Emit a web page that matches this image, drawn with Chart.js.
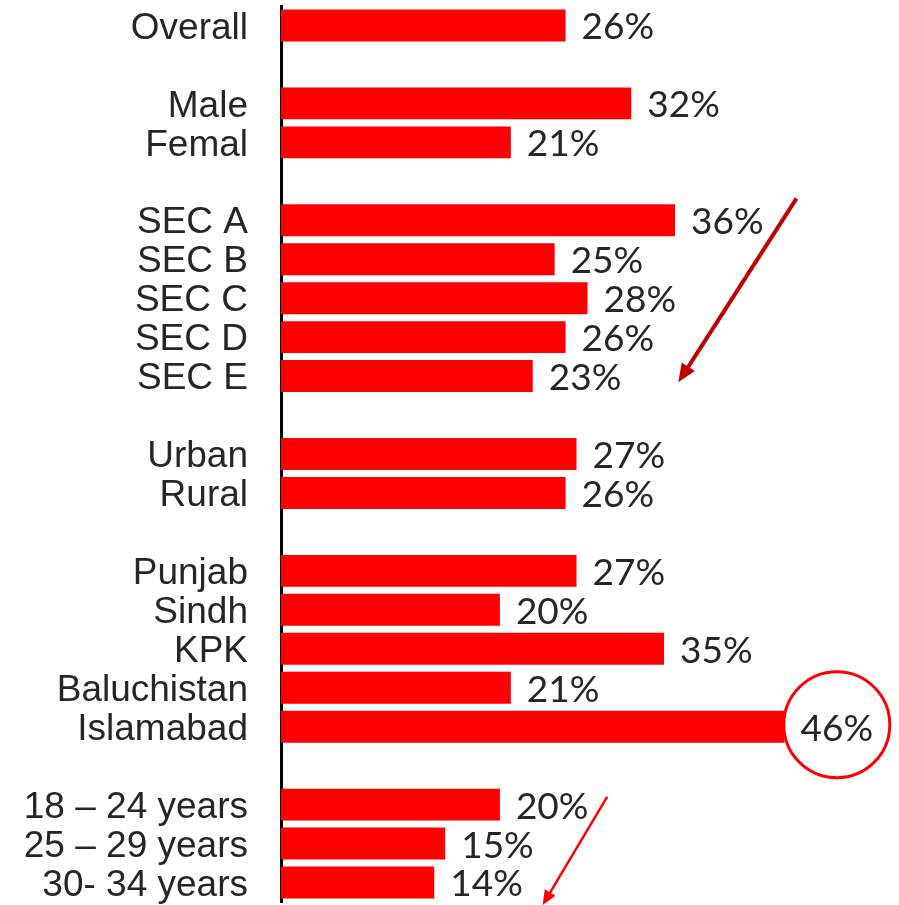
<!DOCTYPE html>
<html>
<head>
<meta charset="utf-8">
<script src="https://cdn.jsdelivr.net/npm/chart.js@4/dist/chart.umd.min.js"></script>
<style>
  html, body { margin: 0; padding: 0; background: #fff; }
  #wrap { width: 899px; height: 905px; position: relative; }
</style>
</head>
<body>
<div id="wrap"><canvas id="bars"></canvas></div>
<script>
/* =================================================================
    Data (empty label + null value = spacer row between groups)
================================================================= */

var categories = [
    "Overall", "",
    "Male", "Femal", "",
    "SEC A", "SEC B", "SEC C", "SEC D", "SEC E", "",
    "Urban", "Rural", "",
    "Punjab", "Sindh", "KPK", "Baluchistan", "Islamabad", "",
    "18 \u2013 24 years", "25 \u2013 29 years", "30- 34 years"
];

var shares = [
    26, null,
    32, 21, null,
    36, 25, 28, 26, 23, null,
    27, 26, null,
    27, 20, 35, 21, 46, null,
    20, 15, 14
];

var highlighted = "Islamabad";

/* =================================================================
    Value labels, circle and arrows
================================================================= */

var textColor = "#262626";

// arrows in data units: x = percent, y = row index
var arrows = [
    { from: [47.1, 4.44], to: [36.3, 9.16], color: "#C00000", width: 4, head: 20 },
    { from: [29.8, 19.8], to: [23.9, 22.58], color: "#FF0000", width: 2.5, head: 16 }
];

var labelPlugin = {
    id: "valueLabels",
    afterDatasetsDraw: function (chart) {
        var ctx = chart.ctx;
        var meta = chart.getDatasetMeta(0);
        ctx.save();
        ctx.font = "37px Lato";
        ctx.textBaseline = "middle";
        ctx.textAlign = "left";
        meta.data.forEach(function (bar, i) {
            var v = shares[i];
            if (v === null) return;
            var txt = v + "%";
            var tx = bar.x + 16;
            if (categories[i] === highlighted) {
                var w = ctx.measureText(txt).width;
                ctx.beginPath();
                ctx.arc(tx + w / 2, bar.y - 2, 53, 0, Math.PI * 2);
                ctx.fillStyle = "#fff";
                ctx.fill();
                ctx.lineWidth = 3;
                ctx.strokeStyle = "#FF0000";
                ctx.stroke();
            }
            ctx.fillStyle = textColor;
            ctx.fillText(txt, tx, bar.y + 2);
        });

        var xs = chart.scales.x, ys = chart.scales.y;
        arrows.forEach(function (a) {
            var x1 = xs.getPixelForValue(a.from[0]), y1 = ys.getPixelForValue(a.from[1]);
            var x2 = xs.getPixelForValue(a.to[0]), y2 = ys.getPixelForValue(a.to[1]);
            var ang = Math.atan2(y2 - y1, x2 - x1);
            var bx = x2 - Math.cos(ang) * a.head * 0.8;
            var by = y2 - Math.sin(ang) * a.head * 0.8;
            ctx.strokeStyle = a.color;
            ctx.fillStyle = a.color;
            ctx.lineWidth = a.width;
            ctx.beginPath();
            ctx.moveTo(x1, y1);
            ctx.lineTo(bx, by);
            ctx.stroke();
            ctx.beginPath();
            ctx.moveTo(x2, y2);
            ctx.lineTo(x2 - a.head * Math.cos(ang - 0.4), y2 - a.head * Math.sin(ang - 0.4));
            ctx.lineTo(x2 - a.head * Math.cos(ang + 0.4), y2 - a.head * Math.sin(ang + 0.4));
            ctx.closePath();
            ctx.fill();
        });
        ctx.restore();
    }
};

/* =================================================================
    Bar chart
================================================================= */

var ctxBars = document.getElementById("bars");

var myChart = new Chart(ctxBars, {
    type: "bar",
    data: {
        labels: categories,
        datasets: [{
            data: shares,
            backgroundColor: "#FF0000",
            borderWidth: 0,
            categoryPercentage: 1,
            barPercentage: 0.82
        }]
    },
    options: {
        indexAxis: "y",
        responsive: true,
        maintainAspectRatio: false,
        animation: false,
        layout: { padding: { top: 6, bottom: 3, left: 0, right: 16 } },
        plugins: {
            legend: { display: false },
            tooltip: { enabled: false }
        },
        scales: {
            x: {
                display: false,
                min: 0,
                max: 55
            },
            y: {
                grid: { display: false, drawTicks: false },
                border: { display: true, color: "#000", width: 3 },
                ticks: {
                    autoSkip: false,
                    padding: 33,
                    labelOffset: 3,
                    color: textColor,
                    font: { family: "'Liberation Sans', Arial", size: 37 }
                },
                afterFit: function (scale) {
                    scale.width = 281;
                    // labels may overhang the chart area, no extra room needed
                    scale.paddingTop = 0;
                    scale.paddingBottom = 0;
                }
            }
        }
    },
    plugins: [labelPlugin]
});
</script>
</body>
</html>
